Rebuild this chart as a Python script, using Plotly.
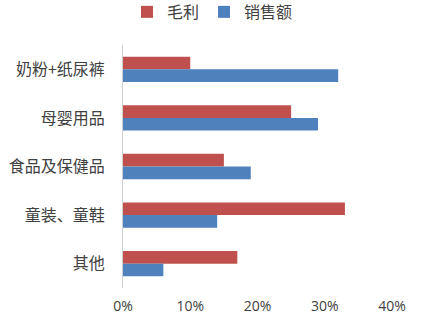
import plotly.graph_objects as go

categories = ["奶粉+纸尿裤", "母婴用品", "食品及保健品", "童装、童鞋", "其他"]
gross_profit = [0.10, 0.25, 0.15, 0.33, 0.17]
sales = [0.32, 0.29, 0.19, 0.14, 0.06]
x_ticks = [0, 0.1, 0.2, 0.3, 0.4]
x_tick_labels = ["0%", "10%", "20%", "30%", "40%"]

fig = go.Figure()
fig.add_trace(go.Bar(y=categories, x=gross_profit, orientation="h", name="毛利",
                     marker=dict(color="#C0504D", line=dict(width=0))))
fig.add_trace(go.Bar(y=categories, x=sales, orientation="h", name="销售额",
                     marker=dict(color="#4F81BD", line=dict(width=0))))

fig.update_layout(
    width=425, height=323,
    margin=dict(l=123, r=33, t=45, b=35, autoexpand=False),
    paper_bgcolor="white", plot_bgcolor="white",
    barmode="group", bargap=0.48, bargroupgap=0,
    font=dict(family="Noto Sans CJK SC", color="#404040"),
    legend=dict(orientation="h", xref="container", x=0.5, xanchor="center",
                yref="container", y=0.963, yanchor="middle",
                font=dict(size=16, family="Noto Sans CJK SC", color="#404040"),
                itemwidth=30, tracegroupgap=0),
    showlegend=True,
)
fig.update_xaxes(range=[0, 0.4], tickvals=x_ticks, ticktext=x_tick_labels,
                 showgrid=False, zeroline=False, showline=False,
                 tickfont=dict(family="Open Sans", size=14, color="#404040"),
                 ticklabelstandoff=8)
fig.update_yaxes(autorange="reversed", showline=True, linecolor="#D0D0D0", linewidth=1,
                 showgrid=False, ticks="",
                 tickfont=dict(family="Noto Sans CJK SC", size=16, color="#404040"),
                 ticklabelstandoff=14)

fig.write_html("out.html")
